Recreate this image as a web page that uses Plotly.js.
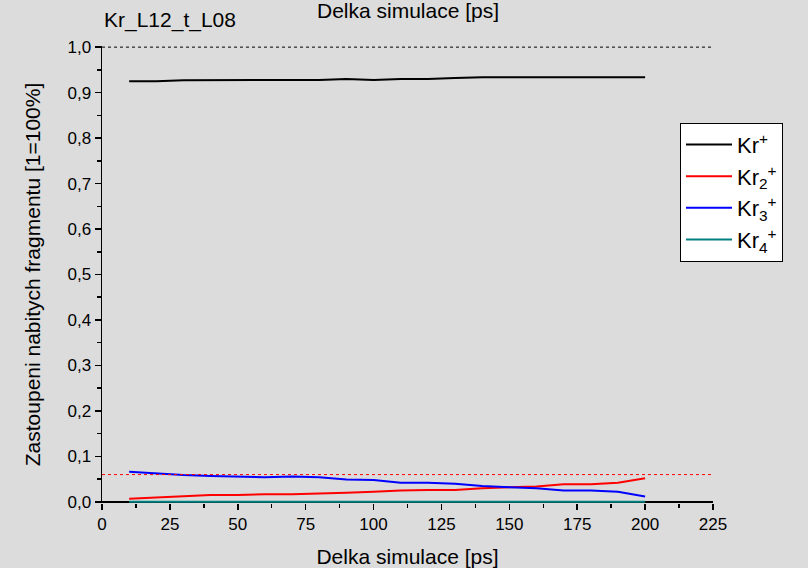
<!DOCTYPE html>
<html>
<head>
<meta charset="utf-8">
<script src="https://cdn.plot.ly/plotly-3.0.1.min.js"></script>
<style>
  html, body { margin: 0; padding: 0; background: #dcdcdc; }
  #chart { width: 808px; height: 568px; }
</style>
</head>
<body>
<div id="chart"></div>
<script>
// Simulation time [ps]
const timePs = [10, 20, 30, 40, 50, 60, 70, 80, 90, 100, 110, 120, 130, 140, 150, 160, 170, 180, 190, 200];

// Fraction of charged fragments per cluster size
const kr1 = [0.925, 0.925, 0.927, 0.927, 0.928, 0.928, 0.927, 0.928, 0.930, 0.928, 0.930, 0.930, 0.932, 0.934, 0.934, 0.934, 0.934, 0.934, 0.934, 0.934];
const kr2 = [0.007, 0.010, 0.013, 0.015, 0.015, 0.017, 0.017, 0.018, 0.020, 0.022, 0.025, 0.026, 0.026, 0.030, 0.032, 0.034, 0.039, 0.039, 0.042, 0.052];
const kr3 = [0.066, 0.062, 0.059, 0.057, 0.056, 0.054, 0.056, 0.054, 0.049, 0.048, 0.042, 0.042, 0.040, 0.035, 0.032, 0.030, 0.025, 0.025, 0.022, 0.012];
const kr4 = [0, 0, 0, 0, 0, 0, 0, 0, 0, 0, 0, 0, 0, 0, 0, 0, 0, 0, 0, 0];

const seriesNames = ['Kr<sup>+</sup>', 'Kr<sub>2</sub><sup>+</sup>', 'Kr<sub>3</sub><sup>+</sup>', 'Kr<sub>4</sub><sup>+</sup>'];
const seriesColors = ['#000000', '#ff0000', '#0000ff', '#008080'];

// Reference levels
const fullLevel = 1.0;
const redLevel = 0.06;

const xTickVals = [0, 25, 50, 75, 100, 125, 150, 175, 200, 225];
const yTickVals = [0, 0.1, 0.2, 0.3, 0.4, 0.5, 0.6, 0.7, 0.8, 0.9, 1.0];

const FONT = 'Liberation Sans, Arial, sans-serif';

const traces = [kr1, kr2, kr3, kr4].map((vals, i) => ({
  x: timePs,
  y: vals,
  type: 'scatter',
  mode: 'lines',
  name: seriesNames[i],
  line: { color: seriesColors[i], width: 2 }
}));

const layout = {
  width: 808,
  height: 568,
  paper_bgcolor: '#dcdcdc',
  plot_bgcolor: '#dcdcdc',
  separators: ',.',
  margin: { l: 102, r: 95, t: 46, b: 65 },
  font: { family: FONT, color: '#000000', size: 17 },
  showlegend: true,
  legend: {
    x: 0.946, y: 0.832, xanchor: 'left', yanchor: 'top',
    bgcolor: '#ffffff', bordercolor: '#000000', borderwidth: 1,
    font: { family: FONT, size: 22, color: '#000000' },
    itemwidth: 46,
    tracegroupgap: 0
  },
  xaxis: {
    range: [0, 225],
    tickvals: xTickVals,
    ticktext: xTickVals.map(String),
    ticks: 'outside', ticklen: 6, tickwidth: 1.5, tickcolor: '#000000',
    minor: { dtick: 12.5, tick0: 0, ticks: 'outside', ticklen: 4, tickwidth: 1.5, tickcolor: '#000000' },
    showline: false, showgrid: false, zeroline: false,
    tickfont: { family: FONT, size: 17 },
    title: { text: 'Delka simulace [ps]', font: { family: FONT, size: 21 }, standoff: 18 }
  },
  yaxis: {
    range: [-0.0025, 1.0025],
    tickvals: yTickVals,
    tickformat: '.1f',
    ticks: 'outside', ticklen: 6, tickwidth: 1.5, tickcolor: '#000000',
    minor: { dtick: 0.05, tick0: 0, ticks: 'outside', ticklen: 4, tickwidth: 1.5, tickcolor: '#000000' },
    showline: true, linecolor: '#000000', linewidth: 1.5,
    showgrid: false,
    zeroline: true, zerolinecolor: '#000000', zerolinewidth: 1.5,
    tickfont: { family: FONT, size: 17 },
    title: { text: 'Zastoupeni nabitych fragmentu [1=100%]', font: { family: FONT, size: 21 }, standoff: 21 }
  },
  shapes: [
    { type: 'line', xref: 'x', yref: 'y', x0: 0, x1: 225, y0: fullLevel, y1: fullLevel,
      line: { color: '#000000', width: 1, dash: 'dot' } },
    { type: 'line', xref: 'x', yref: 'y', x0: 0, x1: 225, y0: redLevel, y1: redLevel,
      line: { color: '#ff0000', width: 1, dash: 'dot' } }
  ],
  annotations: [
    { text: 'Kr_L12_t_L08', xref: 'paper', yref: 'paper', x: 0, y: 1, xanchor: 'left', yanchor: 'bottom',
      yshift: 12, showarrow: false, font: { family: FONT, size: 21 } },
    { text: 'Delka simulace [ps]', xref: 'paper', yref: 'paper', x: 0.5, y: 1, xanchor: 'center', yanchor: 'bottom',
      yshift: 22, showarrow: false, font: { family: FONT, size: 21 } }
  ]
};

Plotly.newPlot('chart', traces, layout, { displayModeBar: false, staticPlot: true });
</script>
</body>
</html>
